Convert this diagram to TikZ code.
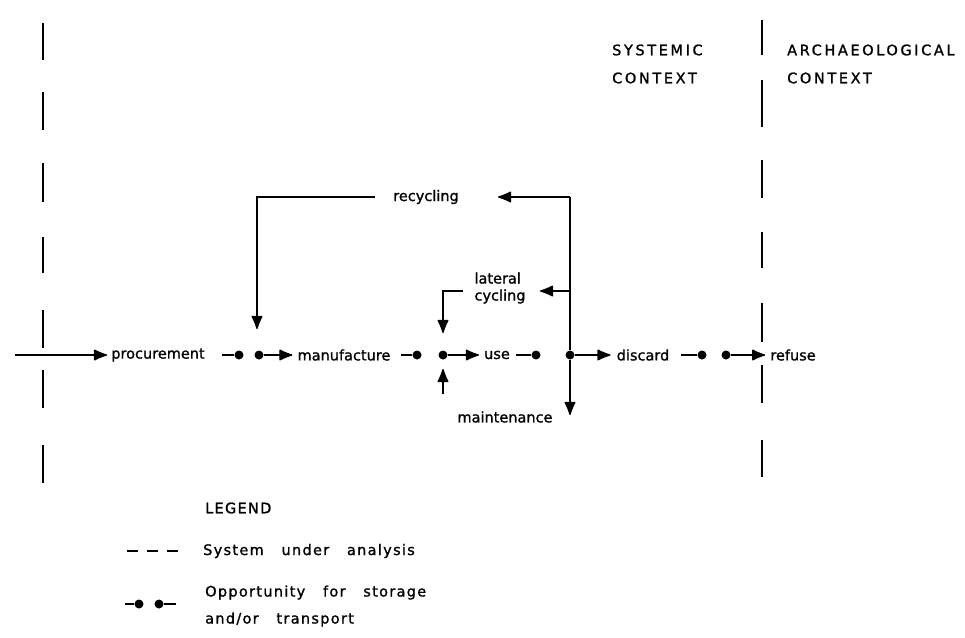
\documentclass[tikz,border=0pt]{standalone}
\usepackage{fontspec}
\setmainfont[FakeBold=1.2]{DejaVu Sans}
\newfontfamily\capsfont[LetterSpace=18,FakeBold=1.2]{DejaVu Sans}
\newfontfamily\legfont[LetterSpace=9,WordSpace=3,FakeBold=1.2]{DejaVu Sans}
\usetikzlibrary{arrows.meta}
\begin{document}
\begin{tikzpicture}[x=1pt,y=-1pt,
  lbl/.style={inner sep=0pt,font=\fontsize{14.5}{17}\selectfont},
  ctx/.style={inner sep=0pt,anchor=west,align=left,font=\capsfont\fontsize{14.5}{28}\selectfont},
  leg/.style={inner sep=0pt,anchor=west,align=left,font=\legfont\fontsize{14.5}{27}\selectfont},
  ln/.style={line width=1.3pt},
  arr/.style={line width=1.3pt,-{Latex[round,length=15pt,width=12pt]}},
  dashseg/.style={line width=1.5pt},
  dot/.style={circle,fill=black,inner sep=0pt,minimum size=9pt}]
\useasboundingbox (0,0) rectangle (965,637);

% system boundaries (dashed)
\foreach \a/\b in {23/60,92/130,163/202,237/273,310/348,370/408,445/483}
  \draw[dashseg] (43,\a) -- (43,\b);
\foreach \a/\b in {20/55,80/127,160/198,232/268,303/342,365/403,440/477}
  \draw[dashseg] (762,\a) -- (762,\b);

% context labels
\node[ctx] (sys) at (612,64) {SYSTEMIC\\CONTEXT};
\node[ctx] (arc) at (787,64) {ARCHAEOLOGICAL\\CONTEXT};

% main stage labels
\node[lbl] (proc) at (158,355) {procurement};
\node[lbl] (manu) at (344,355) {manufacture};
\node[lbl] (use)  at (497,355) {use};
\node[lbl] (disc) at (643,355) {discard};
\node[lbl] (ref)  at (793,355) {refuse};
\node[lbl] (recy) at (426,197) {recycling};
\node[lbl,align=left] (lat) at (500,288) {lateral\\cycling};
\node[lbl] (main) at (505,417) {maintenance};

% input arrow
\coordinate (in) at (15,355);
\draw[arr,shorten >=4pt] (in) -- (proc.west);

% storage points
\coordinate (p1) at (222,355);
\node[dot] (d1) at (239,355) {};
\node[dot] (d2) at (259,355) {};
\draw[ln] (p1) -- (d1);
\draw[arr,shorten >=5pt] (d2) -- (manu.west);

\coordinate (m1) at (401,355);
\node[dot] (d3) at (417,355) {};
\draw[ln] (m1) -- (d3);
\node[dot] (j1) at (443,355) {};
\draw[arr,shorten >=5pt] (j1) -- (use.west);

\coordinate (u1) at (516,355);
\node[dot] (d4) at (536,355) {};
\draw[ln] (u1) -- (d4);
\node[dot] (j2) at (570,355) {};
\draw[arr,shorten >=6pt] (j2) -- (disc.west);

\coordinate (c1) at (681,355);
\node[dot] (d5) at (702,355) {};
\draw[ln] (c1) -- (d5);
\node[dot] (d6) at (726,355) {};
\draw[arr,shorten >=5pt] (d6) -- (ref.west);

% recycling loop
\coordinate (rtop) at (570,197);
\coordinate (rtip) at (498,197);
\coordinate (rl) at (375,197);
\coordinate (rc) at (257,197);
\coordinate (rend) at (257,329);
\draw[ln] (j2) -- (rtop);
\draw[arr] (rtop) -- (rtip);
\draw[arr] (rl) -- (rc) -- (rend);

% lateral cycling
\coordinate (lj) at (570,291);
\coordinate (ltip) at (540,291);
\draw[arr] (lj) -- (ltip);
\coordinate (ll) at (463,291);
\coordinate (lc) at (443,291);
\coordinate (lend) at (443,333);
\draw[arr] (ll) -- (lc) -- (lend);

% maintenance
\coordinate (mb) at (443,394);
\coordinate (mend) at (443,369);
\draw[arr] (mb) -- (mend);
\coordinate (dend) at (570,415);
\draw[arr] (j2) -- (dend);

% legend
\node[leg] (lg) at (205,508) {LEGEND};
\node[leg] (l1) at (203,551) {System under analysis};
\node[leg] (l2) at (205,606) {Opportunity for storage\\and/or transport};
\coordinate (ds) at (127,551);
\coordinate (de) at (178,551);
\draw[line width=1.2pt,dash pattern=on 11pt off 9pt] (ds) -- (de);
\coordinate (s1) at (125,604);
\node[dot] (sd1) at (139,604) {};
\draw[ln] (s1) -- (sd1);
\node[dot] (sd2) at (159,604) {};
\coordinate (s2) at (176,604);
\draw[ln] (sd2) -- (s2);
\end{tikzpicture}
\end{document}
